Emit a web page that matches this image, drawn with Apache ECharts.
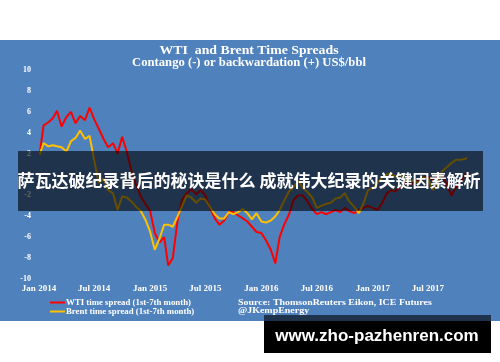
<!DOCTYPE html>
<html><head><meta charset="utf-8">
<script src="https://cdn.jsdelivr.net/npm/echarts@6/dist/echarts.min.js"></script>
<style>html,body{margin:0;padding:0;background:#fff}#c{width:500px;height:362px}</style>
</head><body><div id="c"></div>
<script>
const dates = ['2014-01-03','2014-01-16',
'2014-02-01','2014-02-16','2014-03-01','2014-03-16','2014-04-01','2014-04-16','2014-05-01','2014-05-16','2014-06-01','2014-06-16',
'2014-07-01','2014-07-16','2014-08-01','2014-08-16','2014-09-01','2014-09-16','2014-10-01','2014-10-16','2014-11-01','2014-11-16','2014-12-01','2014-12-16',
'2015-01-01','2015-01-16','2015-02-01','2015-02-16','2015-03-01','2015-03-16','2015-04-01','2015-04-16','2015-05-01','2015-05-16','2015-06-01','2015-06-16',
'2015-07-01','2015-07-16','2015-08-01','2015-08-16','2015-09-01','2015-09-16','2015-10-01','2015-10-16','2015-11-01','2015-11-16','2015-12-01','2015-12-16',
'2016-01-01','2016-01-16','2016-02-01','2016-02-16','2016-03-01','2016-03-16','2016-04-01','2016-04-16','2016-05-01','2016-05-16','2016-06-01','2016-06-16',
'2016-07-01','2016-07-16','2016-08-01','2016-08-16','2016-09-01','2016-09-16','2016-10-01','2016-10-16','2016-11-01','2016-11-16','2016-12-01','2016-12-16',
'2017-01-01','2017-01-16','2017-02-01','2017-02-16','2017-03-01','2017-03-16','2017-04-01','2017-04-16','2017-05-01','2017-05-16','2017-06-01','2017-06-16',
'2017-07-01','2017-07-16','2017-08-01','2017-08-16','2017-09-01','2017-09-16','2017-10-01','2017-10-16','2017-11-01','2017-11-06'];

const wti = [1.9,4.7,
5.0,5.4,6.1,4.6,5.5,6.0,4.9,5.6,5.2,6.4,
5.3,4.4,3.4,2.6,3.0,2.0,3.6,2.2,0.3,-1.0,-2.1,-2.8,
-3.5,-5.6,-6.5,-6.0,-8.7,-8.0,-4.4,-2.4,-1.8,-1.4,-1.9,-1.5,
-2.0,-3.2,-4.2,-4.8,-4.4,-3.6,-3.6,-3.9,-4.2,-4.5,-5.0,-5.5,
-5.6,-6.3,-7.2,-8.5,-6.0,-4.8,-3.8,-2.4,-2.0,-2.0,-2.6,-3.3,
-3.8,-3.6,-3.8,-3.6,-3.4,-3.6,-3.2,-3.5,-3.7,-3.4,-3.2,-3.0,
-3.2,-3.4,-2.7,-1.8,-1.5,-1.6,-1.2,-0.8,-1.0,-0.8,-0.5,-0.3,
-0.2,-0.5,-0.2,0.1,-1.0,-2.0,-1.2,-0.7,0.0,0.2];

const brent = [1.9,3.0,
2.7,2.8,2.7,2.6,2.2,3.2,3.5,4.2,3.4,3.7,
1.4,-0.8,-0.4,-1.5,-1.8,-3.4,-2.1,-2.2,-2.6,-3.1,-3.5,-4.3,
-5.5,-7.2,-6.1,-4.8,-4.8,-5.0,-4.0,-3.0,-2.0,-2.2,-2.7,-2.3,
-2.4,-3.1,-3.8,-4.2,-4.2,-3.6,-3.8,-3.6,-3.3,-3.7,-4.3,-3.7,
-4.5,-4.6,-4.4,-4.0,-3.4,-2.5,-1.6,-1.2,-0.6,-1.3,-1.7,-2.2,
-3.2,-3.0,-2.8,-2.7,-2.3,-2.2,-1.8,-2.6,-3.1,-3.7,-2.8,-1.5,
-1.3,-0.8,-0.3,0.0,0.1,-0.2,0.0,-0.5,-0.6,-0.6,-0.8,-0.3,
-0.4,-1.5,-0.8,0.3,0.7,1.1,1.4,1.4,1.5,1.6];

const tickDates = ['2014-01-01','2014-07-01','2015-01-01','2015-07-01','2016-01-01','2016-07-01','2017-01-01','2017-07-01'];
const tickLabels = ['Jan 2014','Jul 2014','Jan 2015','Jul 2015','Jan 2016','Jul 2016','Jan 2017','Jul 2017'];
const seriesNames = ['WTI time spread (1st-7th month)','Brent time spread (1st-7th month)'];
const titleText = 'WTI  and Brent Time Spreads';
const subtitleText = 'Contango (-) or backwardation (+) US$/bbl';
const sourceLines = ['Source: ThomsonReuters Eikon, ICE Futures','@JKempEnergy'];
const bannerText = '萨瓦达破纪录背后的秘诀是什么 成就伟大纪录的关键因素解析';
const watermarkText = 'www.zho-pazhenren.com';

const serif = '"Liberation Serif", "DejaVu Serif", serif';
const DAY = 86400000;
const toDay = d => Math.round(Date.UTC(+d.slice(0,4), +d.slice(5,7)-1, +d.slice(8,10)) / DAY);
const tickDays = tickDates.map(toDay);

const chart = echarts.init(document.getElementById('c'), null, {renderer:'canvas'});
chart.setOption({
  backgroundColor: '#ffffff',
  animation: false,
  legend: {
    orient: 'vertical', left: 45, top: 293, itemWidth: 15, itemHeight: 2, itemGap: 0,
    icon: 'rect',
    textStyle: {color:'#fff', fontFamily: serif, fontWeight:'bold', fontSize: 8.8, lineHeight: 9, padding:[0,0,0,-4]},
    data: seriesNames
  },
  grid: {left: 39, right: 30, top: 70, bottom: 83},
  xAxis: {
    type: 'value', min: toDay('2014-01-01'), max: toDay('2017-11-16'),
    axisLine: {show:false}, axisTick: {show:false}, splitLine: {show:false},
    axisLabel: {
      customValues: tickDays, color:'#fff', fontFamily: serif, fontWeight:'bold', fontSize: 9, margin: 5,
      formatter: v => { const i = tickDays.indexOf(Math.round(v)); return i >= 0 ? tickLabels[i] : ''; }
    }
  },
  yAxis: {
    type: 'value', min: -10, max: 10, interval: 2,
    axisLine: {show:false}, axisTick: {show:false}, splitLine: {show:false},
    axisLabel: {color:'#fff', fontFamily: serif, fontWeight:'bold', fontSize: 8, margin: 8}
  },
  graphic: [
    {type:'rect', z:-10, silent:true, shape:{x:0,y:40,width:500,height:281}, style:{fill:'#4F81BD'}},
    {type:'text', z:5, x:249, y:51, scaleX:1.15, style:{text: titleText, fill:'#fff', font:'bold 12px ' + serif, textAlign:'center', textVerticalAlign:'middle'}},
    {type:'text', z:5, x:249, y:63.5, scaleX:1.1, style:{text: subtitleText, fill:'#fff', font:'bold 11.5px ' + serif, textAlign:'center', textVerticalAlign:'middle'}},
    {type:'text', z:5, x:238, y:298.5, scaleX:1.17, style:{text: sourceLines.join('\n'), fill:'#fff', font:'bold 8.5px ' + serif, lineHeight: 8.5}},
    {type:'rect', z:100, silent:true, shape:{x:18,y:151,width:465,height:60}, style:{fill:'rgba(0,0,0,0.6)'}},
    {type:'text', z:101, x:249, y:181, style:{text: bannerText, fill:'#fff', font:'bold 17px "Noto Sans CJK SC"', textAlign:'center', textVerticalAlign:'middle'}},
    {type:'rect', z:100, silent:true, shape:{x:264,y:315,width:227,height:6}, style:{fill:'rgba(0,0,0,0.6)'}},
    {type:'rect', z:100, silent:true, shape:{x:264,y:321,width:227,height:32}, style:{fill:'#000'}},
    {type:'text', z:101, x:377, y:336.5, style:{text: watermarkText, fill:'#fff', font:'bold 17px "Liberation Sans", Arial, sans-serif', textAlign:'center', textVerticalAlign:'middle'}}
  ],
  series: [
    {name: seriesNames[0], type:'line', symbol:'none', color:'#FF0000', lineStyle:{width:2, color:'#FF0000'},
     data: dates.map((d,i) => [toDay(d), wti[i]])},
    {name: seriesNames[1], type:'line', symbol:'none', color:'#FFC000', lineStyle:{width:2, color:'#FFC000'},
     data: dates.map((d,i) => [toDay(d), brent[i]])}
  ]
});
</script></body></html>
